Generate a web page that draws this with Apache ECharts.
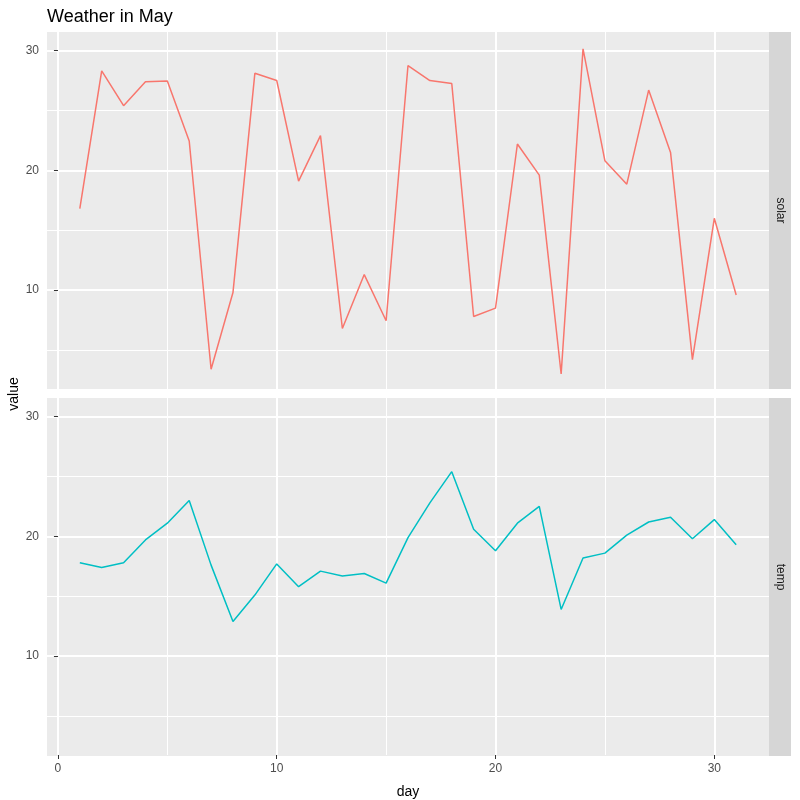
<!DOCTYPE html>
<html>
<head>
<meta charset="utf-8">
<script src="https://cdn.jsdelivr.net/npm/echarts@6/dist/echarts.min.js"></script>
<style>html,body{margin:0;padding:0;background:#fff}#c{width:800px;height:800px}</style>
</head>
<body>
<div id="c"></div>
<script>
const days = [1,2,3,4,5,6,7,8,9,10,11,12,13,14,15,16,17,18,19,20,21,22,23,24,25,26,27,28,29,30,31];
const solar = [16.8,28.3,25.4,27.4,27.45,22.45,3.4,9.8,28.1,27.5,19.1,22.9,6.8,11.3,7.45,28.75,27.5,27.25,7.8,8.5,22.2,19.6,3.0,30.15,20.8,18.85,26.7,21.5,4.2,16.0,9.6];
const temp = [17.8,17.4,17.8,19.7,21.1,23.0,17.6,12.9,15.1,17.7,15.8,17.1,16.7,16.9,16.1,19.9,22.8,25.4,20.6,18.8,21.1,22.5,13.9,18.2,18.6,20.1,21.2,21.6,19.8,21.4,19.3];
const panels = ['solar', 'temp'];
const xMajor = [0, 10, 20, 30];
const xMinor = [5, 15, 25];
const yMajor = [10, 20, 30];
const yMinor = [5, 15, 25];

const FONT = 'Liberation Sans, Arial, sans-serif';
const X_MIN = -0.5, X_MAX = 32.5, Y_MIN = 1.75, Y_MAX = 31.55;
const grids = [
  {left: 47, top: 32, width: 722, height: 357},
  {left: 47, top: 398, width: 722, height: 358}
];
const colors = ['#F8766D', '#00BFC4'];
const seriesData = [solar, temp];

const xAxes = [], yAxes = [], series = [];
grids.forEach((g, i) => {
  const last = i === grids.length - 1;
  xAxes.push({
    type: 'value', gridIndex: i, min: X_MIN, max: X_MAX,
    axisLine: {show: false},
    axisTick: {show: last, customValues: xMajor, length: 4, lineStyle: {color: '#333333', width: 1}},
    axisLabel: {show: last, customValues: xMajor, color: '#4D4D4D', fontSize: 12, fontFamily: FONT, margin: 8},
    splitLine: {show: true, lineStyle: {color: '#FFFFFF', width: 2}},
    name: last ? 'day' : '', nameLocation: 'middle', nameGap: 30,
    nameTextStyle: {color: '#000000', fontSize: 14, fontFamily: FONT}
  });
  xAxes.push({
    type: 'value', gridIndex: i, min: X_MIN, max: X_MAX,
    axisLine: {show: false},
    axisTick: {show: false, customValues: xMinor},
    axisLabel: {show: false, customValues: xMinor},
    splitLine: {show: true, lineStyle: {color: '#FFFFFF', width: 1}}
  });
  yAxes.push({
    type: 'value', gridIndex: i, min: Y_MIN, max: Y_MAX,
    axisLine: {show: false},
    axisTick: {show: true, customValues: yMajor, length: 4, lineStyle: {color: '#333333', width: 1}},
    axisLabel: {show: true, customValues: yMajor, color: '#4D4D4D', fontSize: 12, fontFamily: FONT, margin: 8},
    splitLine: {show: true, lineStyle: {color: '#FFFFFF', width: 2}}
  });
  yAxes.push({
    type: 'value', gridIndex: i, min: Y_MIN, max: Y_MAX,
    axisLine: {show: false},
    axisTick: {show: false, customValues: yMinor},
    axisLabel: {show: false, customValues: yMinor},
    splitLine: {show: true, lineStyle: {color: '#FFFFFF', width: 1}}
  });
  series.push({
    type: 'line', name: panels[i], xAxisIndex: i * 2, yAxisIndex: i * 2,
    data: days.map((d, k) => [d, seriesData[i][k]]),
    showSymbol: false, symbol: 'none',
    lineStyle: {color: colors[i], width: 1.5},
    animation: false, z: 5
  });
});

const graphics = [];
grids.forEach((g, i) => {
  graphics.push({
    type: 'rect', z: -1,
    shape: {x: g.left, y: g.top, width: g.width, height: g.height},
    style: {fill: '#EBEBEB'}
  });
  graphics.push({
    type: 'rect', z: -1,
    shape: {x: g.left + g.width, y: g.top, width: 22, height: g.height},
    style: {fill: '#D6D6D6'}
  });
  graphics.push({
    type: 'text', z: 10,
    x: g.left + g.width + 11, y: g.top + g.height / 2,
    rotation: -Math.PI / 2,
    style: {text: panels[i], fill: '#1A1A1A', fontSize: 12, fontFamily: FONT, align: 'center', verticalAlign: 'middle'}
  });
});
graphics.push({
  type: 'text', x: 14, y: (grids[0].top + grids[1].top + grids[1].height) / 2,
  rotation: Math.PI / 2,
  style: {text: 'value', fill: '#000000', fontSize: 14, fontFamily: FONT, align: 'center', verticalAlign: 'middle'}
});

const chart = echarts.init(document.getElementById('c'), null, {renderer: 'canvas'});
chart.setOption({
  backgroundColor: '#FFFFFF',
  animation: false,
  title: {text: 'Weather in May', left: 42, top: 3, textStyle: {color: '#000000', fontSize: 18, fontWeight: 'normal', fontFamily: FONT}},
  grid: grids.map(g => Object.assign({containLabel: false, show: false}, g)),
  xAxis: xAxes,
  yAxis: yAxes,
  series: series,
  graphic: {elements: graphics}
});
</script>
</body>
</html>
